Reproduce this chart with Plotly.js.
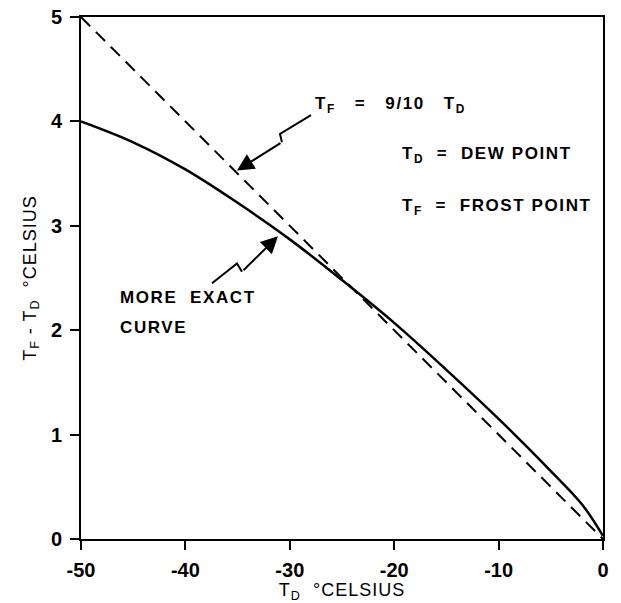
<!DOCTYPE html>
<html>
<head>
<meta charset="utf-8">
<script src="https://cdn.plot.ly/plotly-3.0.1.min.js"></script>
<style>
  html, body { margin: 0; padding: 0; background: #fff; }
  #chart { width: 621px; height: 603px; }
  .annotation-text { letter-spacing: 1.6px; }
  .xtitle, .ytitle { letter-spacing: 1px; }
</style>
</head>
<body>
<div id="chart"></div>
<script>
// Dew point T_D (deg C)
const dewPoint = [-50, -45, -40, -35, -30, -25, -20, -15, -10, -5, -2, 0];
// More exact curve: T_F - T_D (deg C)
const exactDiff = [4.0, 3.80, 3.54, 3.22, 2.87, 2.48, 2.07, 1.62, 1.15, 0.65, 0.33, 0.03];
// Approximation T_F = 9/10 T_D  ->  T_F - T_D
const approxX = [-50, 0];
const approxY = [5, 0];

const xTickVals = [-50, -40, -30, -20, -10, 0];
const xTickText = ['-50', '-40', '-30', '-20', '-10', '0'];
const yTickVals = [0, 1, 2, 3, 4, 5];
const yTickText = ['0', '1', '2', '3', '4', '5'];

// Zig-zag leader lines (data coords) and arrow tips
const leader1X = [-27.97, -30.94, -30.75];
const leader1Y = [4.06, 3.88, 3.80];
const tip1 = [-35.06, 3.53];
const leader2X = [-37.45, -35.06, -34.58];
const leader2Y = [2.45, 2.64, 2.56];
const tip2 = [-31.13, 2.90];

const fontFam = '"Liberation Sans", Arial, sans-serif';
const NB = '\u00A0';

const traces = [
  {
    x: approxX, y: approxY, mode: 'lines', type: 'scatter',
    line: {color: '#000', width: 2, dash: '13px,8px'},
    hoverinfo: 'skip', showlegend: false
  },
  {
    x: dewPoint, y: exactDiff, mode: 'lines', type: 'scatter',
    line: {color: '#000', width: 2.5, shape: 'spline', smoothing: 1},
    hoverinfo: 'skip', showlegend: false
  },
  {
    x: leader1X, y: leader1Y, mode: 'lines', type: 'scatter',
    line: {color: '#000', width: 2}, hoverinfo: 'skip', showlegend: false
  },
  {
    x: leader2X, y: leader2Y, mode: 'lines', type: 'scatter',
    line: {color: '#000', width: 2}, hoverinfo: 'skip', showlegend: false
  }
];

const textFont = {family: fontFam, size: 17, color: '#000', weight: 'bold'};

const annotations = [
  {x: tip1[0], y: tip1[1], ax: leader1X[2], ay: leader1Y[2], axref: 'x', ayref: 'y',
   xref: 'x', yref: 'y', text: '', showarrow: true, arrowhead: 2, arrowsize: 1.7, arrowwidth: 2, arrowcolor: '#000'},
  {x: tip2[0], y: tip2[1], ax: leader2X[2], ay: leader2Y[2], axref: 'x', ayref: 'y',
   xref: 'x', yref: 'y', text: '', showarrow: true, arrowhead: 2, arrowsize: 1.7, arrowwidth: 2, arrowcolor: '#000'},
  {x: -27.8, y: 4.16, xref: 'x', yref: 'y', xanchor: 'left', yanchor: 'middle', showarrow: false,
   text: 'T<sub>F</sub>' + NB + NB + NB + '=' + NB + NB + NB + '9/10' + NB + NB + NB + 'T<sub>D</sub>', font: textFont},
  {x: -19.44, y: 3.68, xref: 'x', yref: 'y', xanchor: 'left', yanchor: 'middle', showarrow: false,
   text: 'T<sub>D</sub>  =  DEW POINT', font: textFont},
  {x: -19.44, y: 3.18, xref: 'x', yref: 'y', xanchor: 'left', yanchor: 'middle', showarrow: false,
   text: 'T<sub>F</sub>  =  FROST POINT', font: textFont},
  {x: -46.46, y: 2.318, xref: 'x', yref: 'y', xanchor: 'left', yanchor: 'middle', showarrow: false,
   text: 'MORE' + NB + NB + 'EXACT', font: textFont},
  {x: -46.46, y: 2.03, xref: 'x', yref: 'y', xanchor: 'left', yanchor: 'middle', showarrow: false,
   text: 'CURVE', font: textFont}
];

const axisCommon = {
  showgrid: false, zeroline: false, showline: true, linecolor: '#000', linewidth: 2,
  mirror: true, ticks: 'outside', ticklen: 9, tickwidth: 2, tickcolor: '#000',
  tickfont: {family: fontFam, size: 20, color: '#000', weight: 'bold'}
};

const layout = {
  width: 621, height: 603,
  margin: {l: 81, r: 18, t: 17, b: 64},
  paper_bgcolor: '#fff', plot_bgcolor: '#fff',
  xaxis: Object.assign({}, axisCommon, {
    range: [-50, 0], tickmode: 'array', tickvals: xTickVals, ticktext: xTickText,
    ticklabelstandoff: 3,
    title: {text: 'T<sub>D</sub>  °CELSIUS', font: {family: fontFam, size: 18, color: '#000'}, standoff: 6}
  }),
  yaxis: Object.assign({}, axisCommon, {
    range: [0, 5], tickmode: 'array', tickvals: yTickVals, ticktext: yTickText,
    ticklabelstandoff: 4,
    title: {text: 'T<sub>F</sub> - T<sub>D</sub>  °CELSIUS', font: {family: fontFam, size: 18, color: '#000'}, standoff: 10}
  }),
  annotations: annotations,
  showlegend: false
};

Plotly.newPlot('chart', traces, layout, {staticPlot: true, displayModeBar: false});
</script>
</body>
</html>
